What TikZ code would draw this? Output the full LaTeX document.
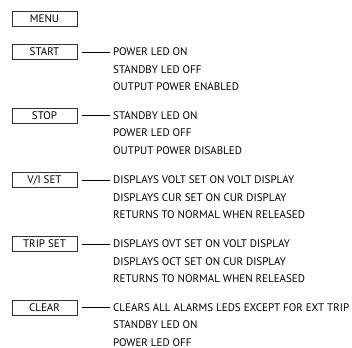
\documentclass[tikz,border=0pt]{standalone}
\usepackage{fontspec}
\setmainfont{PT Sans}
\usetikzlibrary{positioning}

\begin{document}
\begin{tikzpicture}[x=1pt, y=1pt,
  key/.style={draw=black!80, line width=0.6pt, minimum width=65pt, minimum height=15pt, inner sep=0pt},
  info/.style={anchor=west, inner sep=0pt},
  link/.style={line width=0.5pt, shorten <=4.5pt, shorten >=3.5pt},
  every node/.style={font=\fontsize{11}{13}\selectfont}
]
  \useasboundingbox (0,0) rectangle (352,-347);

  % buttons
  \node[key] (menu) at (44.5,-19) {MENU};
  \node[key] (start) at (44.5,-52) {START};
  \node[key] (stop) at (44.5,-115.5) {STOP};
  \node[key] (viset) at (44.5,-180) {V/I SET};
  \node[key] (tripset) at (44.5,-244) {TRIP SET};
  \node[key] (clear) at (44.5,-307.5) {CLEAR};

  % START
  \node[info] (start1) at (113,-52) {POWER LED ON};
  \node[info, below=17.5pt of start1.west, anchor=west] (start2) {STANDBY LED OFF};
  \node[info, below=17.5pt of start2.west, anchor=west] (start3) {OUTPUT POWER ENABLED};

  % STOP
  \node[info] (stop1) at (113,-115.5) {STANDBY LED ON};
  \node[info, below=17.5pt of stop1.west, anchor=west] (stop2) {POWER LED OFF};
  \node[info, below=17.5pt of stop2.west, anchor=west] (stop3) {OUTPUT POWER DISABLED};

  % V/I SET
  \node[info] (viset1) at (113,-180) {DISPLAYS VOLT SET ON VOLT DISPLAY};
  \node[info, below=17.5pt of viset1.west, anchor=west] (viset2) {DISPLAYS CUR SET ON CUR DISPLAY};
  \node[info, below=17.5pt of viset2.west, anchor=west] (viset3) {RETURNS TO NORMAL WHEN RELEASED};

  % TRIP SET
  \node[info] (tripset1) at (113,-244) {DISPLAYS OVT SET ON VOLT DISPLAY};
  \node[info, below=17.5pt of tripset1.west, anchor=west] (tripset2) {DISPLAYS OCT SET ON CUR DISPLAY};
  \node[info, below=17.5pt of tripset2.west, anchor=west] (tripset3) {RETURNS TO NORMAL WHEN RELEASED};

  % CLEAR
  \node[info] (clear1) at (113,-307.5) {CLEARS ALL ALARMS LEDS EXCEPT FOR EXT TRIP};
  \node[info, below=17.5pt of clear1.west, anchor=west] (clear2) {STANDBY LED ON};
  \node[info, below=17.5pt of clear2.west, anchor=west] (clear3) {POWER LED OFF};

  \foreach \k in {start, stop, viset, tripset, clear} {
    \draw[link] (\k.east) -- (\k1.west);
  }
\end{tikzpicture}
\end{document}
